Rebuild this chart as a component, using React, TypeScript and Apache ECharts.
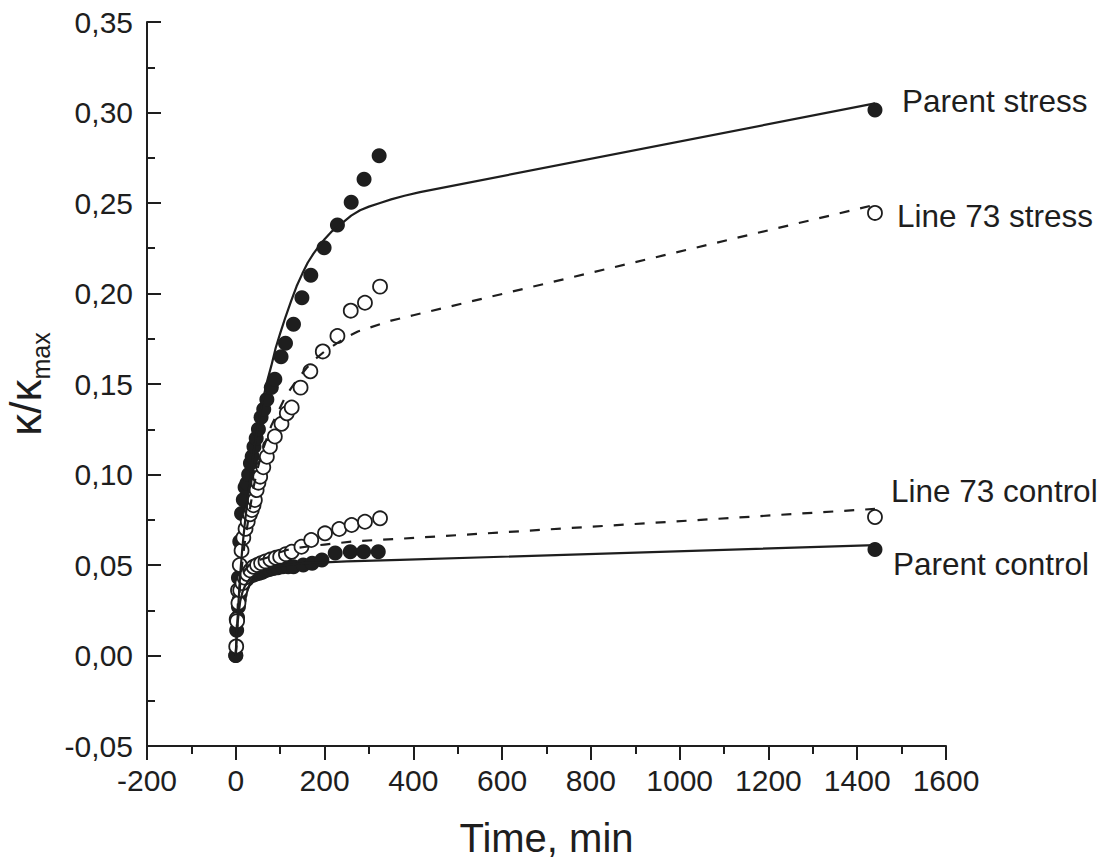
import React, { useEffect, useRef } from 'react';
import * as echarts from 'echarts';

// Tick labels
const xTicks = [-200, 0, 200, 400, 600, 800, 1000, 1200, 1400, 1600];
const yTicks = ['-0,05', '0,00', '0,05', '0,10', '0,15', '0,20', '0,25', '0,30', '0,35'];

// Parent stress (filled circles)
const parentStressT = [0, 6, 9, 13, 17, 21, 25, 29, 33, 37, 41, 46, 51, 57, 63, 70, 80, 88, 102, 112, 130, 149, 169, 199, 229, 260, 289, 323, 1440];
const parentStressY = [0, 0.043, 0.063, 0.0785, 0.086, 0.093, 0.0951, 0.1, 0.1062, 0.11, 0.1154, 0.12, 0.125, 0.1316, 0.136, 0.1415, 0.148, 0.1526, 0.1651, 0.1725, 0.183, 0.1977, 0.2101, 0.2253, 0.2378, 0.2504, 0.2631, 0.2761, 0.3014];

// Line 73 stress (open circles)
const line73StressT = [2, 5, 9, 13, 17, 22, 27, 32, 36, 40, 43, 47, 51, 55, 62, 70, 77, 88, 103, 115, 126, 146, 168, 196, 229, 259, 291, 325, 1440];
const line73StressY = [0.02, 0.036, 0.05, 0.058, 0.065, 0.07, 0.074, 0.078, 0.0804, 0.083, 0.0859, 0.0914, 0.0955, 0.0988, 0.104, 0.1098, 0.1154, 0.121, 0.128, 0.1338, 0.137, 0.148, 0.157, 0.168, 0.1765, 0.1905, 0.1949, 0.2038, 0.2445];

// Parent control (filled circles)
const parentControlT = [0, 2, 4, 6, 8, 10, 13, 16, 20, 25, 30, 35, 40, 46, 53, 60, 68, 76, 85, 95, 106, 118, 130, 152, 172, 194, 224, 258, 288, 321, 1440];
const parentControlY = [0, 0.014, 0.021, 0.027, 0.031, 0.034, 0.037, 0.039, 0.041, 0.042, 0.0435, 0.044, 0.0445, 0.045, 0.0455, 0.046, 0.047, 0.0475, 0.048, 0.0485, 0.049, 0.049, 0.049, 0.05, 0.051, 0.0528, 0.0566, 0.0573, 0.0573, 0.0573, 0.0585];

// Line 73 control (open circles)
const line73ControlT = [1, 3, 6, 10, 15, 20, 26, 33, 40, 48, 57, 67, 78, 90, 100, 113, 126, 148, 170, 201, 233, 261, 291, 325, 1440];
const line73ControlY = [0.005, 0.019, 0.029, 0.036, 0.04, 0.043, 0.045, 0.047, 0.049, 0.05, 0.051, 0.052, 0.053, 0.054, 0.0546, 0.056, 0.0573, 0.0601, 0.0638, 0.0675, 0.0699, 0.0721, 0.0739, 0.0758, 0.0765];

// Fitted curves
const fitParentStressT = [0, 3, 6, 10, 15, 20, 25, 30, 35, 40, 45, 50, 55, 60, 70, 80, 90, 100, 112, 125, 137, 150, 162, 175, 187, 200, 215, 230, 245, 260, 280, 300, 325, 350, 380, 415, 1440];
const fitParentStressY = [0, 0.016, 0.029, 0.045, 0.06, 0.072, 0.083, 0.093, 0.103, 0.112, 0.12, 0.127, 0.134, 0.14, 0.151, 0.16, 0.17, 0.178, 0.187, 0.196, 0.204, 0.211, 0.217, 0.222, 0.226, 0.23, 0.234, 0.237, 0.24, 0.243, 0.246, 0.248, 0.25, 0.252, 0.254, 0.256, 0.305];

const fitLine73StressT = [0, 3, 6, 10, 15, 20, 25, 30, 40, 50, 60, 70, 80, 90, 100, 110, 120, 140, 160, 180, 200, 225, 250, 275, 300, 350, 400, 1440];
const fitLine73StressY = [0, 0.014, 0.026, 0.04, 0.052, 0.062, 0.07, 0.078, 0.093, 0.104, 0.113, 0.12, 0.127, 0.132, 0.137, 0.142, 0.146, 0.153, 0.159, 0.164, 0.168, 0.172, 0.176, 0.179, 0.181, 0.185, 0.188, 0.249];

const fitParentControlT = [0, 2, 5, 8, 10, 15, 20, 25, 30, 40, 50, 62, 75, 100, 125, 150, 200, 250, 370, 1440];
const fitParentControlY = [0, 0.012, 0.02, 0.026, 0.03, 0.035, 0.038, 0.04, 0.042, 0.044, 0.046, 0.047, 0.048, 0.0495, 0.0503, 0.051, 0.0515, 0.052, 0.0528, 0.061];

const fitLine73ControlT = [0, 2, 5, 8, 10, 15, 20, 30, 40, 55, 70, 90, 115, 140, 170, 200, 227, 272, 370, 1440];
const fitLine73ControlY = [0, 0.015, 0.03, 0.036, 0.04, 0.044, 0.047, 0.05, 0.052, 0.053, 0.054, 0.0563, 0.0583, 0.0595, 0.0605, 0.0613, 0.062, 0.0632, 0.0645, 0.081];

const labels = ['Parent stress', 'Line 73 stress', 'Line 73 control', 'Parent control'];

const FONT = '"Liberation Sans", Arial, Helvetica, sans-serif';
const INK = '#1e1e1e';

const zip = (t: number[], y: number[]) => t.map((v, i) => [v, y[i]]);

export default function App() {
  const ref = useRef<HTMLDivElement>(null);
  useEffect(() => {
    const chart = echarts.init(ref.current!, null, { renderer: 'svg' });
    const filled = { color: INK, opacity: 1 };
    const open = { color: '#ffffff', borderColor: INK, borderWidth: 1.8, opacity: 1 };
    const fitLine = (data: number[][], dashed: boolean) => ({
      type: 'line',
      data,
      symbol: 'none',
      smooth: false,
      silent: true,
      z: 4,
      lineStyle: { color: INK, width: 2.2, type: dashed ? [10, 11] : 'solid', cap: 'butt', join: 'round' },
    });
    chart.setOption({
      animation: false,
      backgroundColor: '#ffffff',
      grid: { left: 147, top: 22, right: 160, bottom: 117, containLabel: false, outerBoundsMode: 'none' },
      xAxis: {
        type: 'value',
        min: xTicks[0],
        max: xTicks[xTicks.length - 1],
        interval: 200,
        name: 'Time, min',
        nameLocation: 'middle',
        nameGap: 72,
        nameTextStyle: { fontFamily: FONT, fontSize: 40, color: INK },
        axisLine: { show: true, onZero: false, lineStyle: { color: INK, width: 2 } },
        axisTick: { show: true, inside: false, length: 14, lineStyle: { color: INK, width: 2 } },
        minorTick: { show: true, splitNumber: 2, length: 8, lineStyle: { color: INK, width: 2 } },
        splitLine: { show: false },
        axisLabel: {
          fontFamily: FONT,
          fontSize: 30,
          color: INK,
          margin: 19,
          formatter: (v: number) => {
            const i = xTicks.indexOf(Math.round(v));
            return i >= 0 ? String(xTicks[i]) : '';
          },
        },
      },
      yAxis: {
        type: 'value',
        min: -0.05,
        max: 0.35,
        interval: 0.05,
        name: '{a|κ/κ}{b|max}',
        nameLocation: 'middle',
        nameGap: 92,
        nameTextStyle: {
          color: INK,
          rich: {
            a: { fontFamily: FONT, fontSize: 44, color: INK, lineHeight: 50, verticalAlign: 'top' },
            b: { fontFamily: FONT, fontSize: 25, color: INK, lineHeight: 50, verticalAlign: 'bottom' },
          },
        },
        axisLine: { show: true, onZero: false, lineStyle: { color: INK, width: 2 } },
        axisTick: { show: true, inside: true, length: 14, lineStyle: { color: INK, width: 2 } },
        minorTick: { show: true, splitNumber: 2, length: 8, lineStyle: { color: INK, width: 2 } },
        splitLine: { show: false },
        axisLabel: {
          fontFamily: FONT,
          fontSize: 30,
          color: INK,
          margin: 14,
          formatter: (v: number) => {
            const i = Math.round((v + 0.05) / 0.05);
            return yTicks[i] ?? '';
          },
        },
      },
      graphic: [
        { type: 'text', x: 902, y: 101, style: { text: labels[0], font: `31.5px ${FONT}`, fill: INK, verticalAlign: 'middle' } },
        { type: 'text', x: 897, y: 216, style: { text: labels[1], font: `31.5px ${FONT}`, fill: INK, verticalAlign: 'middle' } },
        { type: 'text', x: 891, y: 491, style: { text: labels[2], font: `31.5px ${FONT}`, fill: INK, verticalAlign: 'middle' } },
        { type: 'text', x: 893, y: 564, style: { text: labels[3], font: `31.5px ${FONT}`, fill: INK, verticalAlign: 'middle' } },
      ],
      series: [
        { type: 'scatter', name: labels[0], data: zip(parentStressT, parentStressY), symbolSize: 15, itemStyle: filled, z: 2, silent: true },
        { type: 'scatter', name: labels[3], data: zip(parentControlT, parentControlY), symbolSize: 15, itemStyle: filled, z: 2, silent: true },
        { type: 'scatter', name: labels[1], data: zip(line73StressT, line73StressY), symbolSize: 14, itemStyle: open, z: 3, silent: true },
        { type: 'scatter', name: labels[2], data: zip(line73ControlT, line73ControlY), symbolSize: 14, itemStyle: open, z: 3, silent: true },
        fitLine(zip(fitParentStressT, fitParentStressY), false),
        fitLine(zip(fitLine73StressT, fitLine73StressY), true),
        fitLine(zip(fitParentControlT, fitParentControlY), false),
        fitLine(zip(fitLine73ControlT, fitLine73ControlY), true),
      ],
    });
    return () => chart.dispose();
  }, []);
  return (
    <div
      ref={ref}
      style={{ position: 'fixed', left: 0, top: 0, width: 1106, height: 863, background: '#fff' }}
    />
  );
}
